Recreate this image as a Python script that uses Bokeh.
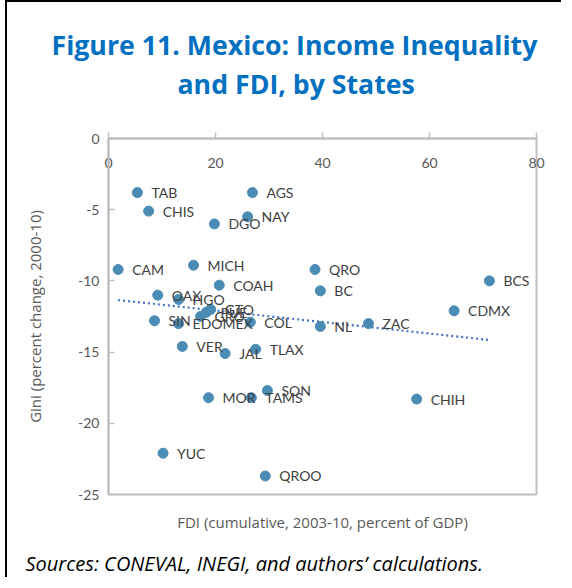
from bokeh.plotting import figure
from bokeh.models import Range1d, FixedTicker, Title, ColumnDataSource
from bokeh.embed import file_html
from bokeh.resources import INLINE
from bokeh.core.properties import value
import numpy as np

states = ["TAB", "AGS", "CHIS", "NAY", "DGO", "CAM", "MICH", "QRO", "COAH", "BC",
          "OAX", "HGO", "GTO", "PUE", "GRO", "SIN", "EDOMEX", "COL", "VER", "JAL",
          "TLAX", "SON", "MOR", "TAMS", "NL", "BCS", "CDMX", "ZAC", "CHIH", "YUC", "QROO"]
fdi = [5.4, 26.9, 7.5, 26.0, 19.8, 1.8, 15.9, 38.6, 20.7, 39.6,
       9.2, 13.1, 19.1, 18.3, 17.2, 8.6, 13.1, 26.5, 13.8, 21.8,
       27.5, 29.7, 18.7, 26.7, 39.6, 71.2, 64.6, 48.6, 57.6, 10.2, 29.3]
gini = [-3.8, -3.8, -5.1, -5.5, -6.0, -9.2, -8.9, -9.2, -10.3, -10.7,
        -11.0, -11.3, -12.0, -12.2, -12.5, -12.8, -13.0, -12.9, -14.6, -15.1,
        -14.8, -17.7, -18.2, -18.2, -13.2, -10.0, -12.1, -13.0, -18.3, -22.1, -23.7]

x_ticks = [0, 20, 40, 60, 80]
y_ticks = [0, -5, -10, -15, -20, -25]

title_line1 = "Figure 11. Mexico: Income Inequality"
title_line2 = "and FDI, by States"
x_title = "FDI (cumulative, 2003-10, percent of GDP)"
y_title = "Gini (percent change, 2000-10)"
source_note = "Sources: CONEVAL, INEGI, and authors\u2019 calculations."

AXIS_GRAY = "#bfbfbf"
TEXT_GRAY = "#595959"
DOT = "#4a8cb4"
BLUE = "#0070c0"

p = figure(width=556, height=577, x_range=Range1d(0, 80), y_range=Range1d(-25, 0),
           output_backend="svg", toolbar_location=None, x_axis_location="above",
           min_border_left=101, min_border_right=27, min_border_top=136, min_border_bottom=85,
           margin=(0, 0, 0, 5),
           styles={"border-left": "2.5px solid black", "border-top": "2.5px solid black"})
p.xgrid.visible = False
p.ygrid.visible = False
p.outline_line_color = AXIS_GRAY
p.outline_line_width = 2
p.background_fill_color = "white"
p.border_fill_color = "white"

xa = p.xaxis[0]
xa.ticker = FixedTicker(ticks=x_ticks)
xa.minor_tick_line_color = None
xa.major_tick_in = 0
xa.major_tick_out = 6
xa.axis_line_color = AXIS_GRAY
xa.axis_line_width = 2
xa.major_tick_line_color = AXIS_GRAY
xa.major_tick_line_width = 1.5
xa.major_label_standoff = -35
xa.major_label_text_font = "Lato"
xa.major_label_text_font_size = "14px"
xa.major_label_text_color = TEXT_GRAY

ya = p.yaxis[0]
ya.ticker = FixedTicker(ticks=y_ticks)
ya.major_label_overrides = {t: str(t) for t in y_ticks}
ya.minor_tick_line_color = None
ya.major_tick_in = 6
ya.major_tick_out = 0
ya.axis_line_color = AXIS_GRAY
ya.axis_line_width = 2
ya.major_tick_line_color = AXIS_GRAY
ya.major_tick_line_width = 1.5
ya.major_label_standoff = 9
ya.major_label_text_font = "Lato"
ya.major_label_text_font_size = "14px"
ya.major_label_text_color = TEXT_GRAY
ya.axis_label = y_title
ya.axis_label_text_font = "Open Sans"
ya.axis_label_text_font_style = "normal"
ya.axis_label_text_font_size = "15px"
ya.axis_label_text_color = TEXT_GRAY
ya.axis_label_standoff = 30

# trend line (least squares fit of the data, as in Excel)
xs = np.array(fdi)
ys = np.array(gini)
slope, intercept = np.polyfit(xs, ys, 1)
tx = [xs.min(), xs.max()]
ty = [intercept + slope * v for v in tx]
p.line(tx, ty, line_color="#4472c4", line_width=2.2, line_dash="2 3")

src = ColumnDataSource(dict(x=fdi, y=gini, name=states))
p.scatter("x", "y", source=src, size=10, fill_color=DOT, line_color=DOT)
p.text("x", "y", text="name", source=src, x_offset=14, text_baseline="middle",
       text_align="left", text_font=value("Lato"), text_font_size="14px", text_color="#404040")

# titles above (first added sits closest to the plot)
p.add_layout(Title(text=title_line2, align="left", offset=69, standoff=74,
                   text_font="Open Sans", text_font_style="bold", text_font_size="26.7px",
                   text_color=BLUE), "above")
p.add_layout(Title(text=title_line1, align="left", offset=-57, standoff=-75,
                   text_font="Open Sans", text_font_style="bold", text_font_size="26.7px",
                   text_color=BLUE), "above")

# texts below (first added sits closest to the plot)
p.add_layout(Title(text=x_title, align="center", standoff=31,
                   text_font="Open Sans", text_font_style="normal", text_font_size="15px",
                   text_color=TEXT_GRAY), "below")
p.add_layout(Title(text=source_note, align="left", offset=-83, standoff=0,
                   text_font="Open Sans", text_font_style="italic", text_font_size="20px",
                   text_color="black"), "below")

open("out.html", "w").write(file_html(p, INLINE))
